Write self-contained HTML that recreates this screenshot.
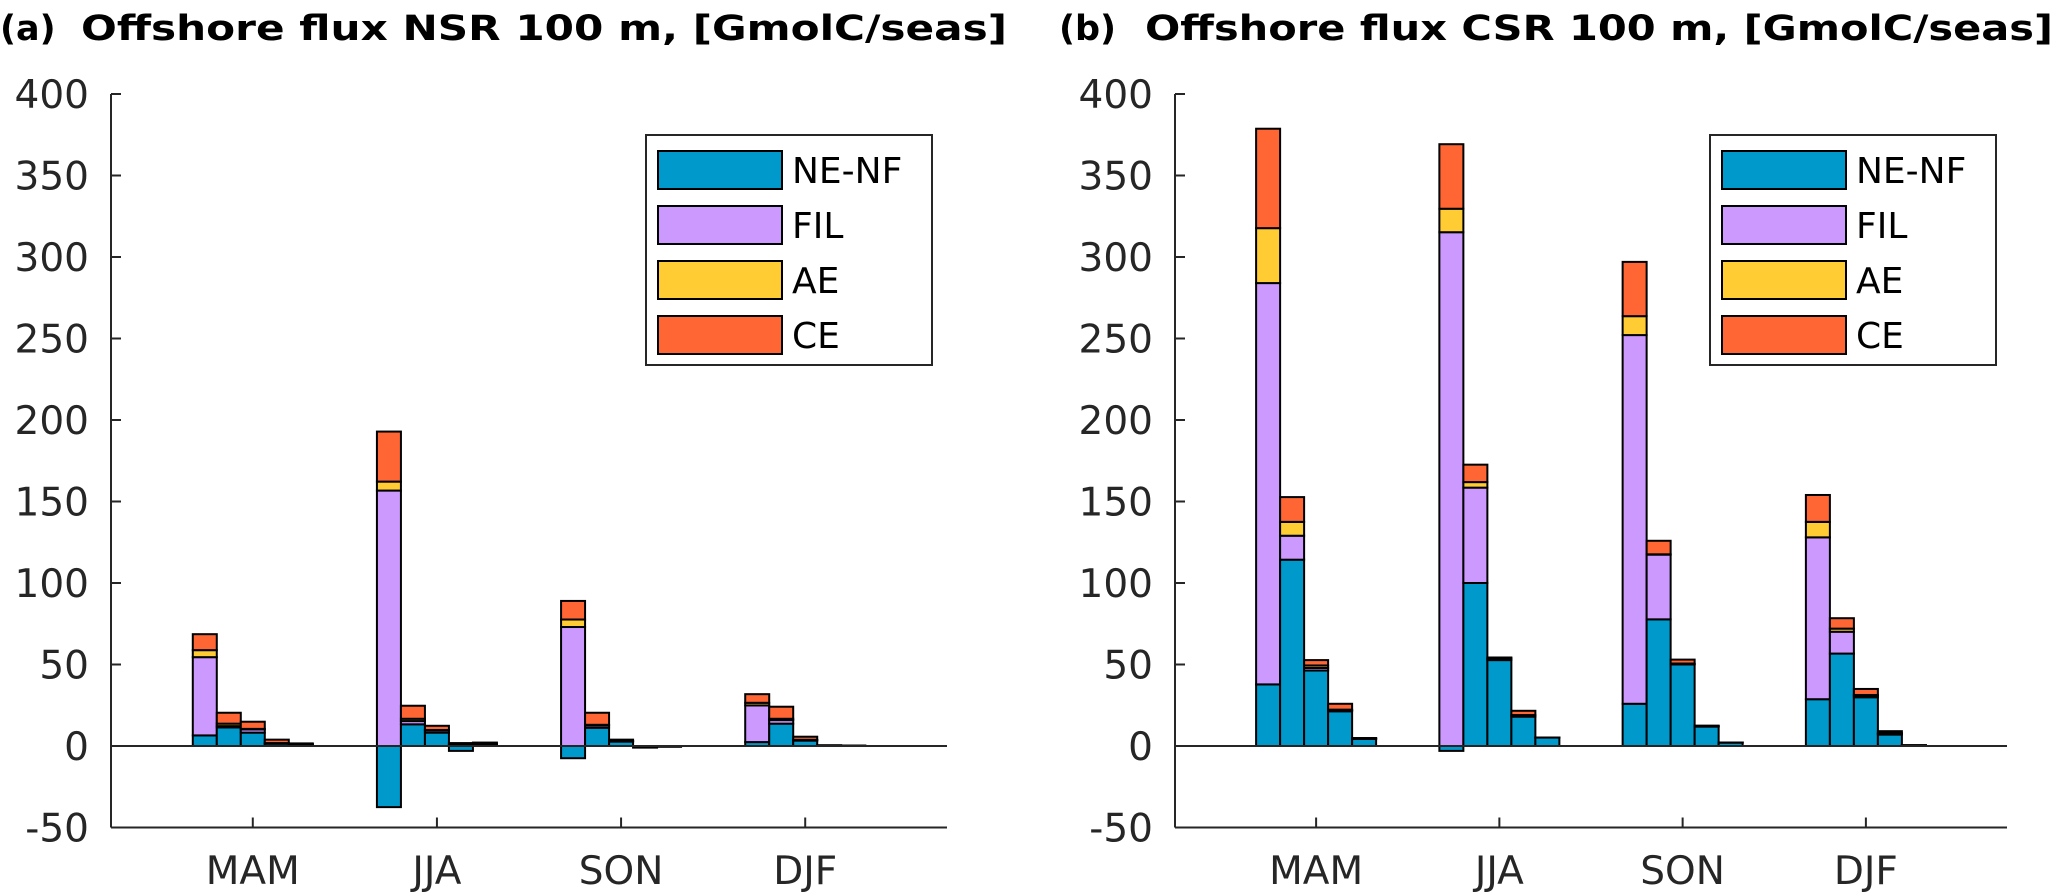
<!DOCTYPE html>
<html><head><meta charset="utf-8"><style>
html,body{margin:0;padding:0;background:#fff;}
svg{display:block;font-family:"DejaVu Sans","Liberation Sans",sans-serif;}
</style></head><body>
<svg id="chart" width="2056" height="894" viewBox="0 0 2056 894" xmlns="http://www.w3.org/2000/svg"></svg>
<script>
const categories = ["MAM","JJA","SON","DJF"];
const seriesNames = ["NE-NF","FIL","AE","CE"];
const colors = ["#0099CC","#CC99FF","#FFCC33","#FF6633"];
const yTicks = [-50,0,50,100,150,200,250,300,350,400];
// Panel a: per season, 5 bars, each [NE, FIL, AE, CE]
const nsrNE  = [[6.5,11.4,8.2,1.4,0.8],[-37.5,13.3,8.2,-3,0.5],[-7.5,11.2,2.7,-1,-0.5],[2.4,13.7,3.3,0.3,0.2]];
const nsrFIL = [[48,0.8,2.0,0.2,0.2],[156.7,2.0,1.4,0.5,0.5],[73,1.4,0.3,0,0],[22.5,2.2,0.3,0,0]];
const nsrAE  = [[4.3,1.5,0.3,0.2,0.1],[5.5,1.4,0.2,0.3,0.3],[4.6,0.4,0.1,0,0],[1.6,0.8,0.2,0,0]];
const nsrCE  = [[9.8,6.7,4.4,2.1,0.5],[30.7,8.0,2.6,1.0,0.8],[11.4,7.4,0.8,0,0],[5.3,7.4,1.9,0.2,0]];
// Panel b
const csrNE  = [[37.8,114.3,46.3,21.3,4.3],[-3,100,52.7,18,5.2],[25.9,77.7,50,11.9,2.1],[28.7,56.7,29.9,7,0.4]];
const csrFIL = [[246.2,14.7,1.6,0.7,0.2],[315.2,58.5,0.8,0.7,0],[226.2,39.7,0.3,0.2,0],[99.3,13.4,1.1,0.5,0]];
const csrAE  = [[33.7,8.5,1.5,0.3,0.2],[14.4,3.4,0.3,0.3,0],[11.6,0.2,0.3,0.1,0],[9.5,1.9,0.3,0.4,0]];
const csrCE  = [[61,15.2,3.3,3.6,0.2],[39.6,10.7,0.5,2.6,0],[33.3,8.3,2.4,0.3,0],[16.5,6.4,3.7,1.2,0.1]];

const svg = document.getElementById('chart');
const NS = "http://www.w3.org/2000/svg";
function mk(tag, attrs, parent){const e=document.createElementNS(NS,tag);for(const k in attrs)e.setAttribute(k,attrs[k]);(parent||svg).appendChild(e);return e;}

const Y0 = 746, PXU = 652/400;
function yScale(v){return Y0 - v*PXU;}

function panel(cfg){
  const g = mk('g',{});
  
  
  const L = cfg.left, R = cfg.right;
  const spacing = (R-L)/4.54;
  function xScale(i){return L + (0.77 + i)*spacing;}
  const bw = 24;
  const t1 = mk('text',{x:cfg.labelX,y:40,'font-size':35,'font-weight':'bold',fill:'#000'},g);
  t1.textContent = cfg.label;
  
  
  const t2 = mk('text',{x:cfg.titleX,y:40,'font-size':35,'font-weight':'bold',fill:'#000',textLength:cfg.titleW,lengthAdjust:'spacingAndGlyphs'},g);
  t2.textContent = cfg.title;
  
  
  const data = [cfg.ne,cfg.fil,cfg.ae,cfg.ce];
  categories.forEach((c,ci)=>{
    for(let b=0;b<5;b++){
      const x = xScale(ci) + (b-2)*bw - bw/2;
      let pos=0, neg=0;
      for(let s=0;s<4;s++){
        const v = data[s][ci][b];
        let y1,y2;
        if(v>=0){y1=pos;y2=pos+v;pos=y2;} else {y1=neg;y2=neg+v;neg=y2;}
        const top=yScale(Math.max(y1,y2)), bot=yScale(Math.min(y1,y2));
        const r = mk('rect',{x:x,y:top,width:bw,height:Math.max(bot-top,0.01),fill:colors[s],stroke:'#000','stroke-width':2},g);
        
        
      }
    }
  });
  const ax = mk('g',{stroke:'#262626','stroke-width':2,fill:'none'},g);
  
  
  mk('line',{x1:L,y1:yScale(-50),x2:L,y2:yScale(400)},ax);
  mk('line',{x1:L,y1:yScale(-50),x2:R,y2:yScale(-50)},ax);
  const zl = mk('line',{x1:L,y1:Y0,x2:R,y2:Y0,stroke:'#262626'},g);
  zl.setAttribute('stroke-width', 2);
  
  
  yTicks.forEach(v=>{
    mk('line',{x1:L,y1:yScale(v),x2:L+10,y2:yScale(v)},ax);
    const tl = mk('text',{x:L-22,y:yScale(v)+14,'font-size':39,fill:'#262626','text-anchor':'end'},g);
    tl.textContent = v;
    
    
  });
  categories.forEach((c,ci)=>{
    mk('line',{x1:xScale(ci),y1:yScale(-50),x2:xScale(ci),y2:yScale(-50)-10},ax);
    const xl = mk('text',{x:xScale(ci),y:884,'font-size':39,fill:'#262626','text-anchor':'middle'},g);
    xl.textContent = c;
    
    
  });
  const lg = mk('g',{},g);
  
  
  mk('rect',{x:cfg.legX,y:135,width:286,height:230,fill:'#fff',stroke:'#262626','stroke-width':2},lg);
  seriesNames.forEach((n,s)=>{
    const cy = 170 + s*55;
    const sw = mk('rect',{x:cfg.legX+12,y:cy-19,width:124,height:38,fill:colors[s],stroke:'#000','stroke-width':2},lg);
    
    
    const lt = mk('text',{x:cfg.legX+146,y:cy+13,'font-size':36,fill:'#000'},lg);
    lt.textContent = n;
    
    
  });
}

panel({name:'panel-a',left:111,right:947,label:'(a)',labelX:0,title:'Offshore flux NSR 100 m, [GmolC/seas]',titleX:81,titleW:926,legX:646,ne:nsrNE,fil:nsrFIL,ae:nsrAE,ce:nsrCE});
panel({name:'panel-b',left:1175,right:2007,label:'(b)',labelX:1059,title:'Offshore flux CSR 100 m, [GmolC/seas]',titleX:1145,titleW:908,legX:1710,ne:csrNE,fil:csrFIL,ae:csrAE,ce:csrCE});
</script>
</body></html>
